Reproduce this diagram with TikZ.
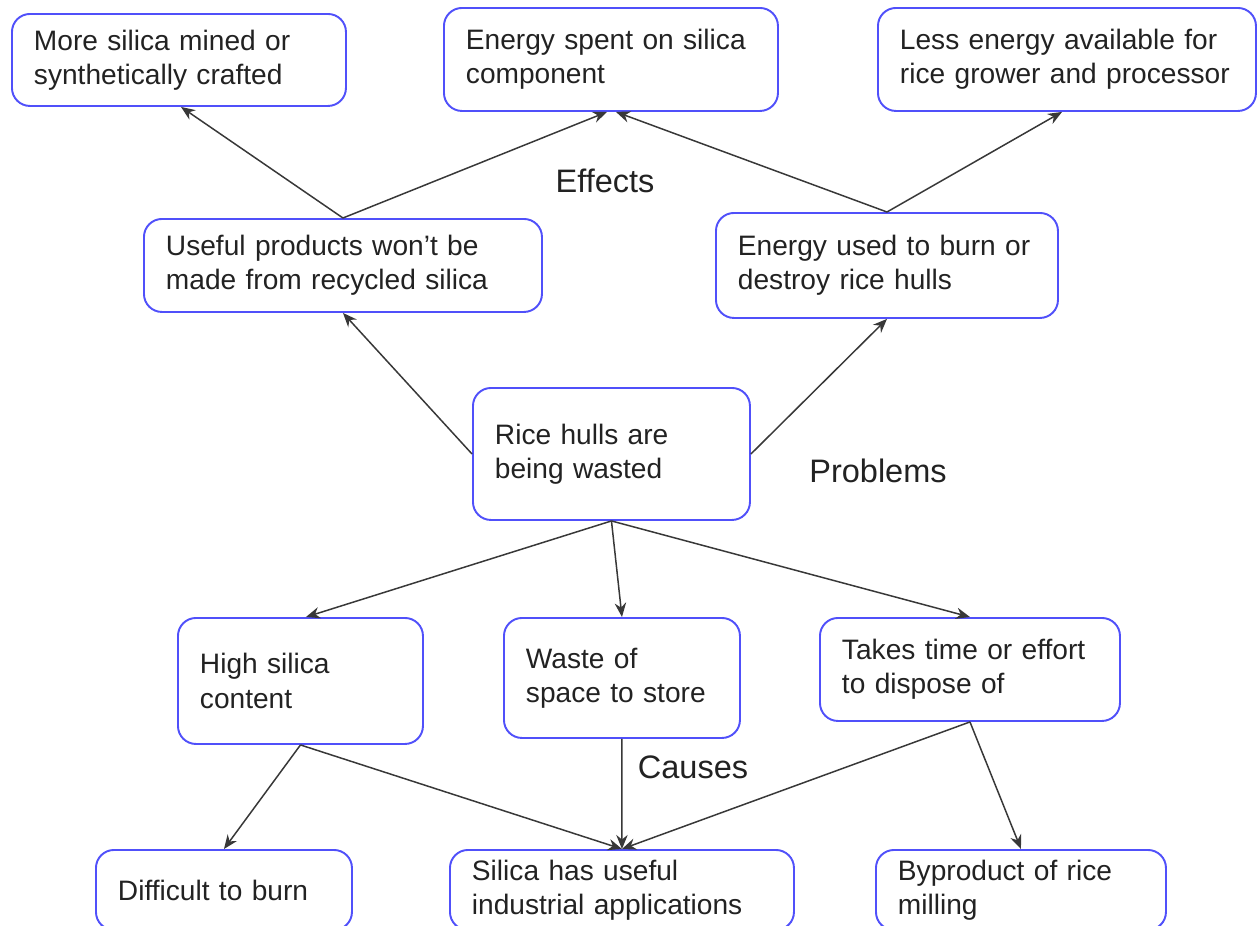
\documentclass[tikz,border=0pt]{standalone}
\usepackage{fontspec}
\setmainfont{Liberation Sans}
\usetikzlibrary{arrows.meta}
\definecolor{boxblue}{RGB}{80,80,250}
\definecolor{ink}{RGB}{34,34,34}
\tikzset{
  box/.style={draw=boxblue, line width=1.1pt, rounded corners=0.36cm, anchor=north west,
    align=left, inner xsep=0.44cm, inner ysep=0pt, text=ink,
    font=\fontsize{16}{19.4}\selectfont},
  tag/.style={text=ink, font=\fontsize{18.5}{22}\selectfont},
  link/.style={->, draw=ink!90, line width=0.85pt}
}
\begin{document}
\begin{tikzpicture}[>={Stealth[length=8pt,width=6.5pt]}, line join=round]
\useasboundingbox (0,0) rectangle (25.14,-18.50);
% effects
\node[box, minimum width=6.68cm, minimum height=1.84cm, text width=5.8cm] (mined) at (0.22,-0.26) {More silica mined or\\synthetically crafted};
\node[box, minimum width=6.68cm, minimum height=2.06cm, text width=5.8cm] (spent) at (8.86,-0.14) {Energy spent on silica\\component};
\node[box, minimum width=7.56cm, minimum height=2.06cm, text width=6.68cm] (less) at (17.54,-0.14) {Less energy available for\\rice grower and processor};
\node[box, minimum width=7.96cm, minimum height=1.86cm, text width=7.08cm] (useful) at (2.86,-4.36) {Useful products won’t be\\made from recycled silica};
\node[box, minimum width=6.84cm, minimum height=2.10cm, text width=5.96cm] (burnt) at (14.30,-4.24) {Energy used to burn or\\destroy rice hulls};
% problem
\node[box, minimum width=5.54cm, minimum height=2.64cm, text width=4.66cm] (hulls) at (9.44,-7.74) {Rice hulls are\\being wasted};
% causes
\node[box, minimum width=4.90cm, minimum height=2.52cm, text width=4.02cm] (high) at (3.54,-12.34) {High silica\\content};
\node[box, minimum width=4.72cm, minimum height=2.40cm, text width=3.84cm] (space) at (10.06,-12.34) {Waste of\\space to store};
\node[box, minimum width=6.00cm, minimum height=2.06cm, text width=5.12cm] (effort) at (16.38,-12.34) {Takes time or effort\\to dispose of};
\node[box, minimum width=5.12cm, minimum height=1.60cm, text width=4.24cm] (hard) at (1.90,-16.98) {Difficult to burn};
\node[box, minimum width=6.88cm, minimum height=1.60cm, text width=6.00cm] (apps) at (8.98,-16.98) {Silica has useful\\industrial applications};
\node[box, minimum width=5.80cm, minimum height=1.60cm, text width=4.92cm] (byprod) at (17.50,-16.98) {Byproduct of rice\\milling};
% labels
\node[tag] (effects) at (12.10,-3.62) {Effects};
\node[tag] (problems) at (17.56,-9.42) {Problems};
\node[tag] (causes) at (13.86,-15.34) {Causes};
% arrows
\draw[link] (useful.north) -- ([xshift=3.40cm]mined.south west);
\draw[link] (useful.north) -- ([xshift=3.28cm]spent.south west);
\draw[link] (burnt.north) -- ([xshift=3.46cm]spent.south west);
\draw[link] (burnt.north) -- ([xshift=3.70cm]less.south west);
\draw[link] (hulls.west) -- (useful.south);
\draw[link] (hulls.east) -- (burnt.south);
\draw[link] (hulls.south) -- ([xshift=0.11cm]high.north);
\draw[link] (hulls.south) -- (space.north);
\draw[link] (hulls.south) -- (effort.north);
\draw[link] (high.south) -- (hard.north);
\draw[link] (high.south) -- (apps.north);
\draw[link] (space.south) -- (apps.north);
\draw[link] (effort.south) -- (apps.north);
\draw[link] (effort.south) -- (byprod.north);
\end{tikzpicture}
\end{document}
